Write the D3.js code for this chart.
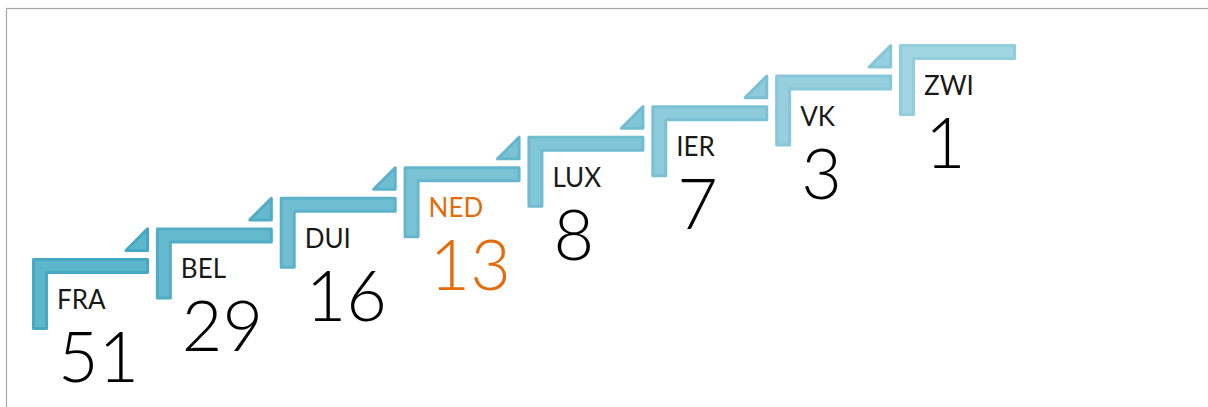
<!DOCTYPE html>
<html lang="en">
<head>
    <meta charset="utf-8">
    <script src='https://d3js.org/d3.v7.min.js'></script>
    <title>Trap</title>
    <style>
      body { margin: 0; background: #fff; }
      text { font-family: Lato, 'Open Sans', sans-serif; }
    </style>
</head>
<body>
  <script>
    var width = 1208, height = 407;

    // data
    var codes = ['FRA', 'BEL', 'DUI', 'NED', 'LUX', 'IER', 'VK', 'ZWI'];
    var values = [51, 29, 16, 13, 8, 7, 3, 1];
    var highlight = 'NED';

    var svg = d3.select('body')
      .append('svg')
      .attr('width', width)
      .attr('height', height);

    // frame
    svg.append('rect')
      .attr('x', 6.5).attr('y', 8.5)
      .attr('width', 1215).attr('height', 420)
      .attr('fill', 'none')
      .attr('stroke', '#a6a6a6')
      .attr('stroke-width', 1.2);

    // step positions
    var x = d3.scaleLinear().domain([0, codes.length - 1]).range([32, 899]);
    var y = d3.scaleLinear().domain([0, codes.length - 1]).range([258, 44]);
    var opacity = d3.scaleLinear().domain([0, codes.length - 1]).range([1, 0.58]);

    var barLen = 117, barW = 16, legLen = 72, sw = 3;

    function stepPath(i) {
      var lx = x(i) + sw / 2, ly = y(i) + sw / 2;
      var w = barLen - sw, t = barW - sw, h = legLen - sw;
      return 'M' + lx + ',' + ly +
        'h' + w + 'v' + t + 'h' + (-(w - t)) + 'v' + (h - t) + 'h' + (-t) + 'Z';
    }

    function triPath(i) {
      var bx = x(i) + barLen - sw / 2;
      var top = y(i + 1) + sw / 2, bot = y(i) - 6 - sw / 2;
      return 'M' + bx + ',' + top + 'V' + bot + 'h' + (-(bot - top)) + 'Z';
    }

    var g = svg.selectAll('g.step')
      .data(codes)
      .join('g')
      .attr('class', 'step')
      .attr('opacity', function(d, i) { return opacity(i); });

    g.append('path')
      .attr('d', function(d, i) { return stepPath(i); })
      .attr('fill', '#5cb6cc')
      .attr('stroke', '#46a8c1')
      .attr('stroke-width', sw)
      .attr('stroke-linejoin', 'round');

    g.filter(function(d, i) { return i < codes.length - 1; })
      .append('path')
      .attr('d', function(d) { return triPath(codes.indexOf(d)); })
      .attr('fill', '#5cb6cc')
      .attr('stroke', '#46a8c1')
      .attr('stroke-width', sw)
      .attr('stroke-linejoin', 'round');

    // labels
    svg.selectAll('text.code')
      .data(codes)
      .join('text')
      .attr('class', 'code')
      .attr('x', function(d, i) { return x(i) + 25; })
      .attr('y', function(d, i) { return y(i) + 51; })
      .attr('font-size', 26)
      .attr('font-weight', 400)
      .attr('fill', function(d) { return d === highlight ? '#e36c0a' : '#1a1a1a'; })
      .text(function(d) { return d; });

    svg.selectAll('text.val')
      .data(values)
      .join('text')
      .attr('class', 'val')
      .attr('x', function(d, i) { return x(i) + 26; })
      .attr('y', function(d, i) { return y(i) + 124; })
      .attr('font-size', 70)
      .attr('font-weight', 300)
      .attr('fill', function(d, i) { return codes[i] === highlight ? '#e36c0a' : '#000'; })
      .text(function(d) { return d; });
  </script>
</body>
</html>
